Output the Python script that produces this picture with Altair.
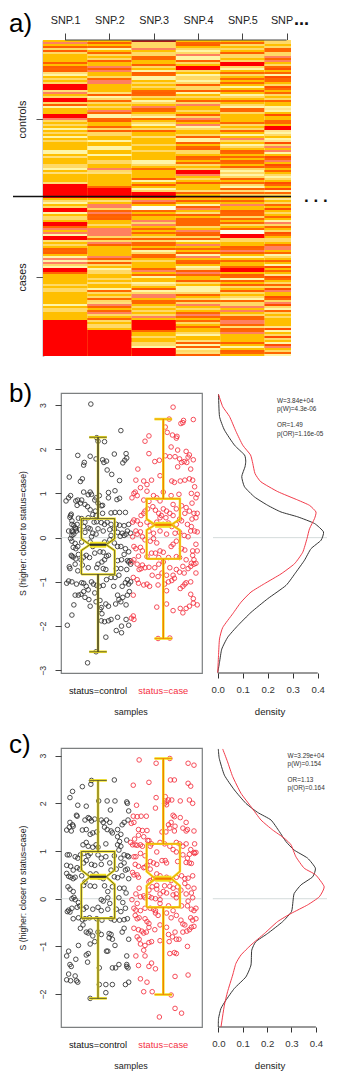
import altair as alt
import pandas as pd

FONT = "Liberation Sans"

# ---------- panel a: genotype heat map (one letter per sample row, top to bottom)
heat_codes = {
    1: "ASARYRYAA AARARORWPA YAYRRRWSAY RRYRPAAARR "
       "SYAYAPAYAP AYAAAAPPAW AAAYYPAWAA AAWRRRRRRR "
       "AYPAYRRPAY YARROSASPR RWAYARORAP SPSYPRROAA "
       "AAAYAYYAAA AAAPAYYAAA ARRRRRRRRR RRRRRRRRR",
    2: "ARAOPAOYA YRAASRSAAY OSSAAAAWRP YOYAYASOPP "
       "ORAAOYRYYA APAAPPAAPA AYYAASYWAA AAAAORRRRR "
       "AWASSYOSRO RAAYASSSSY RYSRAAAAAS RWRYAPYYAA "
       "YAWAAPOYAY OYWSOAOSYA OYAYYARRRR RRRRRRRRR",
    3: "DYYYSAYYO OAARYAPROP PAYAYAOROY APYASROAYP "
       "OAYPAYRAAW AAAYAAYAAA APPYAOAAAA RPARAPYRRR "
       "ASRAWWOAOA ASYSAOAOAY RYOOARPYOO AYAAAOSAOP "
       "AAPWARPYSS AOOAYAYAYS ARRRRROAAY AAYYPRRRR",
    4: "AORAYPYSP PRYARRYAPY YPYRYYRPAY ARYSAAYARY "
       "SOASPYAAYR PPRAORYYAR OAOYAYRRSA YARAAAWRAO "
       "ARAPRSAWRA OOOOYASORY RPASAOARPS AORAPWRSOA "
       "ARYAPPPYOA YOYSAYAOSO AOYAOAAYPA AWRPRPYWR",
    5: "AOYAYARYY AYRRYPAOYA OAOAPARAPY AOAYPOOYAA "
       "AAOYAYOAPA SYAPYAROAO AROARYPYPY RAOYPRWOYR "
       "AOASAAROOY OAOYAOWWRR YYAAROSRAP AOAAORRARO "
       "PRARYARYAY POYYSASAYO OSSOWROSAA AARAPAROA",
    6: "YYAYOOYYS OSAYORAOPR OOAYROAOYA YOAAPWPARA "
       "AOOARRWPYA PWRYSASPAR OSAROAOAYP YAROARPOYA "
       "WAYOARAYAO APSYOAYROA YYAOSSAOPY AOAPRAOAWR "
       "OAYOYRSAAR OYSRYPOYAY AAAAWRPAYR YAPRSAYOP",
}
code_names = ["R", "O", "S", "A", "Y", "P", "W", "D"]
code_colors = ["#FF0000", "#FF6600", "#FF8060", "#FFBF00", "#FFD966", "#FFF5A8", "#FFFFF0", "#A81818"]
snp_ticks = [1, 2, 3, 4, 5, 6]

# ---------- panels b / c: jittered scores (group position, S)
ctrl_b = [(.89,3.02),(1.35,2.42),(.98,2.26),(1.1,2.17),(1.0,2.18),(.69,1.86),(.88,1.84),(.97,1.78),(1.07,1.76),(1.25,1.89),(1.43,1.90),(1.41,1.75),(1.44,1.8),(1.38,1.69),(.79,1.70),(.78,1.64),(1.09,1.70),(1.13,1.73),(1.14,1.53),(1.21,1.43),(.73,1.27),(.76,1.33),(.56,1.37),(1.33,1.29),(1.26,1.06),(.78,1.03),(.88,1.03),(.90,.98),(.85,.97),(.97,.9),(1.02,.95),(1.16,1.02),(1.16,.9),(1.33,.89),(1.29,.86),(.58,.95),(.51,.83),(.55,.9),(.66,.83),(.69,.85),(.75,.85),(.68,.73),(.73,.78),(.8,.75),(.84,.7),(.95,.85),(1.0,.78),(1.07,.73),(1.05,.72),(.88,.63),(.96,.6),(1.07,.55),(1.2,.56),(1.26,.57),(1.33,.57),(1.42,.57),(.59,.53),(.58,.5),(.57,.46),(.6,.38),(.6,.3),(.7,.44),(.75,.43),(.8,.35),(.85,.45),(.92,.52),(.97,.5),(.94,.35),(.98,.36),(1.05,.34),(1.1,.3),(1.14,.35),(1.2,.3),(1.28,.3),(1.33,.28),(1.4,.27),(1.47,.3),(1.45,.15),(1.43,.08),(1.4,.05),(1.37,.1),(1.5,.1),(.55,.15),(.6,.15),(.63,.27),(.65,.22),(.62,.13),(.67,.15),(.66,.2),(.63,.08),(.68,.3),(.6,.05),(.72,.18),(.78,.25),(.85,.22),(.8,.12),(.88,.2),(.92,.1),(.97,.08),(.9,.02),(1.0,.2),(1.08,.15),(1.18,.18),(1.25,.2),(1.3,.12),(1.34,.03),(1.2,.05),(.6,-.08),(.58,-.02),(.65,-.13),(.62,-.22),(.66,-.25),(.69,-.2),(.75,-.1),(.88,-.1),(.92,-.2),(1.1,-.1),(1.18,-.05),(1.25,-.12),(1.3,-.2),(1.35,-.2),(1.42,-.25),(1.47,-.32),(.59,-.4),(.6,-.42),(.62,-.44),(.66,-.48),(.7,-.38),(.74,-.5),(.78,-.44),(.82,-.4),(.87,-.45),(.95,-.35),(1.03,-.32),(1.08,-.33),(1.13,-.42),(1.1,-.5),(1.16,-.4),(1.06,-.55),(1.0,-.6),(1.3,-.52),(1.36,-.5),(1.4,-.38),(1.45,-.52),(1.47,-.55),(1.49,-.52),(1.5,-.6),(.56,-.66),(.57,-.7),(.65,-.6),(.69,-.75),(.76,-.62),(.85,-.68),(.98,-.68),(1.08,-.7),(1.12,-.72),(1.28,-.7),(1.35,-.7),(1.44,-.72),(.55,-.98),(.6,-1.0),(.52,-1.03),(.67,-1.05),(.75,-1.02),(.78,-1.03),(.82,-1.1),(.9,-1.0),(.93,-1.05),(.98,-1.08),(1.08,-1.08),(1.13,-.95),(1.2,-.9),(1.26,-.9),(1.32,-.85),(1.37,-1.1),(1.42,-1.02),(1.47,-1.05),(1.5,-1.0),(1.45,-.95),(.65,-1.3),(.7,-1.3),(.74,-1.28),(.78,-1.22),(.8,-1.35),(.85,-1.18),(.86,-1.4),(.95,-1.25),(1.02,-1.1),(1.24,-1.1),(1.3,-1.3),(1.32,-1.4),(1.38,-1.35),(1.45,-1.3),(1.48,-1.22),(.63,-1.52),(.6,-1.75),(.88,-1.55),(.97,-1.45),(1.03,-1.42),(1.05,-1.58),(1.12,-1.5),(1.16,-1.55),(1.27,-1.5),(1.35,-1.45),(1.43,-1.52),(.53,-1.98),(1.03,-1.62),(1.06,-1.72),(1.05,-1.88),(1.1,-1.9),(1.16,-1.88),(1.2,-1.85),(1.3,-1.8),(1.43,-1.85),(1.47,-1.98),(1.36,-2.0),(1.28,-2.1),(1.36,-2.15),(1.12,-2.25),(.84,-2.83),(.97,-2.58)]
case_b = [(2.15,2.95),(2.46,2.67),(2.31,2.65),(2.27,2.58),(2.3,2.6),(2.09,2.68),(2.03,2.5),(2.06,2.38),(2.14,2.32),(2.2,2.25),(2.21,2.29),(1.72,2.18),(1.78,2.3),(2.12,2.05),(2.22,1.98),(2.35,1.95),(2.38,1.82),(2.4,1.87),(2.46,1.76),(2.18,1.83),(2.25,1.78),(2.1,1.83),(2.03,1.85),(1.78,1.9),(1.87,1.72),(1.94,1.75),(2.22,1.6),(2.28,1.7),(2.32,1.72),(2.36,1.7),(2.42,1.55),(1.61,1.55),(1.58,1.3),(1.7,1.28),(1.75,1.2),(1.82,1.3),(1.95,1.4),(2.13,1.28),(2.17,1.25),(2.26,1.28),(2.33,1.3),(2.4,1.33),(2.45,1.3),(2.48,1.15),(1.65,1.13),(1.75,1.05),(1.57,1.03),(1.55,1.0),(1.52,.9),(1.6,.95),(1.7,.85),(1.78,.82),(1.85,.95),(1.9,.9),(1.95,.83),(2.0,1.03),(2.12,.95),(2.24,.98),(2.43,1.0),(2.52,.98),(2.5,.9),(2.44,.78),(1.84,.7),(1.76,.65),(1.72,.6),(1.7,.55),(1.66,.5),(1.88,.62),(1.93,.55),(2.0,.65),(2.05,.6),(2.15,.75),(2.2,.65),(2.28,.72),(2.35,.68),(2.4,.6),(2.47,.55),(2.52,.55),(1.95,.45),(1.97,.5),(2.04,.45),(2.1,.55),(2.15,.5),(2.25,.42),(2.33,.55),(2.44,.42),(2.5,.45),(1.55,.4),(1.53,.35),(1.6,.38),(1.65,.3),(1.75,.35),(1.8,.27),(1.9,.35),(2.0,.3),(2.08,.33),(2.13,.25),(2.2,.3),(2.28,.38),(2.37,.3),(2.43,.25),(2.48,.15),(2.52,.13),(1.58,.15),(1.6,.08),(1.65,.13),(1.53,.02),(1.68,.02),(1.78,.15),(1.85,.1),(1.95,.15),(2.05,.08),(2.18,.1),(2.25,.12),(2.32,.05),(2.42,.15),(2.38,0.02),(2.5,-.15),(1.55,-.2),(1.58,-.25),(1.65,-.22),(1.68,-.3),(1.72,-.05),(1.8,-.08),(1.85,-.02),(1.9,-.12),(1.95,-.3),(2.0,-.33),(2.12,-.2),(2.15,-.15),(2.2,-.08),(2.28,-.25),(2.33,-.28),(2.45,-.3),(2.52,-.3),(2.45,-.4),(1.62,-.42),(1.75,-.43),(1.82,-.35),(1.88,-.35),(1.93,-.45),(2.08,-.45),(2.2,-.43),(2.25,-.45),(2.35,-.5),(2.47,-.5),(2.5,-.58),(2.42,-.65),(1.55,-.5),(1.52,-.55),(1.6,-.6),(1.68,-.62),(1.72,-.68),(1.78,-.67),(1.87,-.68),(1.93,-.6),(2.0,-.55),(2.1,-.68),(2.2,-.72),(2.3,-.65),(2.38,-.7),(2.43,-.58),(2.47,-.6),(1.63,-.72),(1.66,-.7),(1.83,-.85),(1.92,-.88),(1.98,-.8),(2.05,-.85),(2.15,-.85),(2.25,-.78),(2.32,-.8),(2.5,-.8),(1.54,-.9),(1.6,-.95),(1.62,-1.03),(1.7,-1.07),(1.75,-1.05),(1.79,-1.1),(1.92,-1.07),(2.02,-1.05),(2.08,-1.0),(2.13,-.97),(2.17,-.92),(2.26,-1.15),(2.3,-1.1),(2.33,-1.05),(2.35,-1.02),(2.42,-1.0),(1.54,-1.3),(2.05,-1.2),(2.42,-1.28),(2.46,-1.38),(1.9,-1.57),(2.05,-1.5),(2.15,-1.65),(2.26,-1.6),(2.3,-1.7),(2.35,-1.6),(2.4,-1.55),(2.46,-1.48),(2.52,-1.52),(1.54,-1.77),(1.55,-1.85),(1.51,-1.82),(1.92,-2.28),(2.1,-2.27)]
ctrl_c = [(.89,2.4),(.9,2.48),(1.25,2.49),(.76,2.35),(.61,2.25),(.57,2.12),(.69,1.96),(.82,1.94),(1.01,2.05),(1.14,2.05),(1.26,2.05),(1.44,2.03),(1.45,2.0),(1.19,1.86),(1.47,1.84),(.67,1.75),(.68,1.73),(.61,1.55),(.57,1.6),(.56,1.5),(.59,1.42),(.52,1.44),(.62,1.52),(.76,1.44),(.8,1.65),(.85,1.7),(.87,1.68),(.9,1.63),(.95,1.67),(.82,1.45),(.88,1.35),(.92,1.38),(.98,1.4),(1.05,1.65),(1.08,1.6),(1.13,1.65),(1.18,1.6),(1.1,1.5),(1.14,1.45),(1.2,1.42),(1.22,1.38),(1.3,1.45),(1.35,1.35),(1.3,1.3),(1.37,1.55),(1.4,1.6),(1.46,1.65),(1.44,1.23),(1.33,1.2),(.77,1.13),(.82,1.18),(.85,1.1),(.92,1.08),(.97,1.13),(1.0,1.08),(1.12,1.15),(1.3,1.13),(1.35,1.1),(1.32,1.02),(1.45,.9),(1.47,.88),(.53,.92),(.56,.92),(.65,.88),(.69,.85),(.73,.92),(.78,.95),(.85,.9),(.88,.95),(1.0,.92),(1.05,.85),(1.12,.88),(1.18,.75),(1.25,.9),(1.35,.85),(1.4,.92),(.52,.7),(.58,.68),(.62,.6),(.68,.65),(.72,.62),(.78,.75),(.82,.8),(.9,.72),(.95,.7),(1.05,.72),(1.2,.6),(1.28,.62),(1.35,.7),(1.4,.75),(1.45,.62),(.52,.53),(.55,.47),(.58,.45),(.62,.42),(.65,.45),(.75,.48),(.8,.35),(.88,.52),(.97,.52),(1.02,.45),(1.08,.42),(1.25,.46),(1.3,.44),(1.37,.48),(1.42,.6),(1.47,.42),(.54,.25),(.57,.2),(.62,.15),(.78,.28),(.88,.27),(.95,.26),(1.1,.27),(1.15,.15),(1.22,.25),(1.33,.22),(1.4,.22),(1.43,.12),(.6,.0),(.65,-.02),(.63,.03),(.7,-.08),(.72,-.15),(.55,-.24),(.57,-.28),(.53,-.27),(.6,-.2),(.68,-.18),(.78,-.22),(.82,-.18),(.92,-.22),(1.0,-.18),(1.05,-.25),(1.08,-.05),(1.15,.02),(1.18,-.1),(1.15,-.22),(1.05,-.02),(1.32,.02),(1.38,-.08),(1.42,-.2),(1.28,-.22),(1.35,-.27),(.62,-.42),(.7,-.4),(.76,-.44),(.8,-.42),(.87,-.4),(.98,-.42),(1.06,-.45),(1.2,-.42),(1.25,-.45),(1.33,-.45),(1.4,-.44),(1.45,-.42),(.73,-.62),(.77,-.55),(.82,-.7),(.85,-.72),(.88,-.68),(.92,-.78),(.95,-.9),(1.0,-.7),(1.05,-.75),(1.17,-.73),(1.2,-.75),(1.22,-.85),(1.37,-.7),(1.4,-.62),(1.47,-.85),(.7,-.98),(.88,-.95),(1.17,-.82),(1.26,-.98),(.52,-1.2),(.55,-1.1),(.57,-1.38),(.59,-1.42),(.66,-1.27),(.82,-1.18),(.85,-1.15),(.84,-1.33),(1.13,-1.1),(1.15,-1.1),(1.22,-1.45),(1.27,-1.45),(1.32,-1.38),(1.44,-1.2),(1.44,-1.38),(1.46,-1.45),(1.44,-1.42),(.52,-1.7),(.55,-1.58),(.58,-1.72),(.65,-1.62),(.67,-1.72),(.69,-1.75),(1.02,-1.45),(1.02,-1.8),(1.12,-1.8),(1.22,-1.8),(1.42,-1.8),(1.47,-1.75),(1.12,-1.97),(.88,-2.09)]
case_c = [(1.63,2.91),(1.89,2.84),(2.1,2.94),(2.38,2.84),(2.47,2.8),(1.54,2.38),(1.78,2.44),(2.11,2.49),(2.17,2.49),(2.38,2.42),(2.42,2.36),(1.89,2.12),(2.03,2.14),(2.08,2.07),(2.13,2.07),(2.26,2.05),(2.4,2.07),(2.45,2.0),(1.59,1.96),(1.88,1.9),(2.05,1.97),(2.02,2.0),(2.05,2.03),(2.15,1.75),(2.17,1.72),(2.26,1.7),(2.35,1.6),(1.54,1.73),(1.6,1.72),(1.66,1.73),(1.74,1.73),(2.12,1.6),(2.08,1.55),(2.1,1.48),(2.04,1.4),(1.98,1.4),(2.18,1.52),(2.17,1.42),(2.3,1.48),(2.37,1.45),(2.35,1.42),(2.47,1.42),(1.55,1.6),(1.51,1.58),(1.62,1.45),(1.68,1.43),(1.75,1.43),(1.62,1.33),(1.56,1.25),(1.7,1.3),(1.76,1.22),(1.78,1.22),(1.82,1.15),(1.5,1.18),(1.53,1.13),(1.57,1.13),(1.6,1.12),(1.65,1.13),(1.68,1.1),(1.8,1.1),(1.95,1.18),(2.02,1.15),(2.1,1.1),(2.2,1.18),(2.25,1.15),(2.3,1.1),(2.35,1.15),(2.48,1.15),(2.42,1.03),(2.47,.97),(2.5,.97),(2.4,.93),(1.55,.88),(1.58,.88),(1.65,.95),(1.72,.9),(1.9,.98),(1.98,.8),(2.03,.8),(2.15,1.03),(2.2,.98),(2.3,.92),(2.37,.85),(2.48,.95),(1.8,.78),(1.85,.75),(1.9,.72),(1.75,.7),(1.7,.65),(1.72,.66),(1.62,.68),(1.57,.72),(2.05,.75),(2.22,.78),(2.35,.76),(2.4,.75),(2.43,.74),(1.53,.55),(1.55,.5),(1.6,.5),(1.62,.45),(1.8,.62),(1.9,.52),(1.85,.42),(1.95,.48),(2.05,.45),(2.12,.38),(2.2,.45),(2.28,.48),(2.33,.42),(2.38,.43),(2.45,.48),(1.8,.38),(1.78,.35),(1.9,.28),(2.02,.27),(2.1,.26),(2.15,.22),(2.22,.25),(2.33,.32),(2.38,.25),(2.47,.22),(1.63,.22),(1.78,.18),(1.83,.25),(1.9,.2),(1.95,.1),(2.0,.15),(2.05,.12),(2.2,.1),(2.27,.18),(2.35,.1),(2.43,.12),(1.58,.1),(1.65,.04),(1.7,.06),(1.72,.02),(1.78,.05),(1.82,.02),(1.88,.0),(1.95,-.02),(2.15,.08),(2.2,.02),(2.38,-.05),(2.45,.02),(1.52,-.02),(1.6,-.1),(1.55,-.2),(1.58,-.24),(1.65,-.25),(1.72,-.2),(1.8,-.2),(1.85,-.22),(1.88,-.25),(1.95,-.1),(2.08,-.15),(2.15,-.25),(2.28,-.15),(2.37,-.15),(2.43,-.22),(2.5,-.2),(2.47,-.25),(1.57,-.35),(1.63,-.4),(1.6,-.42),(1.72,-.42),(1.75,-.48),(1.78,-.52),(1.88,-.3),(1.92,-.35),(2.05,-.3),(2.12,-.4),(2.2,-.35),(2.27,-.45),(2.3,-.53),(2.33,-.55),(2.42,-.4),(2.45,-.45),(2.5,-.42),(2.47,-.58),(1.55,-.62),(1.62,-.65),(1.67,-.68),(1.7,-.72),(1.74,-.7),(1.78,-.6),(1.87,-.65),(1.95,-.55),(2.05,-.6),(2.08,-.75),(2.18,-.7),(2.3,-.7),(2.36,-.68),(2.4,-.65),(2.43,-.6),(1.6,-.8),(1.63,-.85),(1.65,-.95),(1.72,-.98),(1.78,-.92),(1.82,-.9),(1.95,-.88),(2.14,-.8),(2.2,-.85),(2.24,-.85),(2.09,-.9),(2.37,-1.0),(1.58,-1.2),(1.62,-1.4),(1.7,-1.08),(1.72,-1.2),(1.78,-1.42),(1.82,-1.35),(1.88,-1.47),(2.1,-1.15),(2.17,-1.13),(2.2,-1.15),(2.38,-1.6),(2.18,-1.63),(1.65,-1.68),(1.75,-1.75),(1.7,-1.95),(1.83,-1.95),(2.12,-2.02),(2.18,-2.3),(2.28,-2.4),(1.94,-2.48)]

# box statistics: centre, q1, q3, median, notch low, notch high, whisker low, whisker high
box_b = [(1, -.83, .43, -.16, -.29, -.02, -2.58, 2.27), (2, -.48, .88, .29, .17, .42, -2.28, 2.68)]
box_c = [(1, -.41, .99, .46, .30, .60, -2.09, 2.48), (2, -.18, 1.15, .42, .27, .57, -2.01, 2.94)]

# density curves: S, density
dens_b_s0 = [3.24,2.74,2.43,2.09,1.87,1.73,1.60,1.38,1.15,.92,.73,.58,.47,.32,.13,-.06,-.25,-.51,-.78,-1.08,-1.38,-1.69,-1.99,-2.25,-2.52,-2.82,-3.05]
dens_b_d0 = [.003,.007,.027,.067,.107,.112,.109,.096,.107,.147,.20,.253,.32,.387,.423,.413,.373,.347,.313,.273,.20,.133,.08,.04,.016,.007,0]
dens_b_s1 = [3.24,2.96,2.74,2.40,2.09,1.87,1.68,1.45,1.26,1.04,.85,.73,.58,.43,.20,-.02,-.33,-.59,-.82,-1.04,-1.23,-1.46,-1.72,-2.03,-2.29,-2.67,-3.05]
dens_b_d1 = [.003,.02,.047,.073,.10,.131,.14,.149,.173,.24,.32,.367,.393,.387,.367,.357,.34,.307,.253,.187,.133,.093,.06,.02,.007,.003,0]
dens_c_s0 = [3.14,2.94,2.59,2.28,2.0,1.81,1.65,1.41,1.2,1.02,.85,.64,.46,.29,.11,-.06,-.27,-.48,-.73,-.9,-1.08,-1.39,-1.64,-1.88,-2.13,-2.3,-2.51,-2.69]
dens_c_d0 = [0,.004,.025,.066,.113,.161,.216,.25,.277,.311,.366,.398,.387,.339,.311,.306,.3,.264,.202,.154,.137,.134,.113,.066,.031,.011,.001,0]
dens_c_s1 = [3.14,2.87,2.56,2.21,1.93,1.65,1.44,1.27,1.13,.88,.64,.5,.25,.04,-.13,-.31,-.48,-.73,-.97,-1.18,-1.36,-1.6,-1.95,-2.23,-2.69]
dens_c_d1 = [.018,.038,.059,.093,.134,.175,.223,.27,.298,.318,.352,.399,.434,.414,.366,.298,.243,.189,.134,.093,.072,.059,.038,.025,.011]

notes_b = ["W=3.84e+04", "p(W)=4.3e-06", "OR=1.49", "p(OR)=1.16e-05"]
notes_b_s = [3.08, 2.90, 2.54, 2.35]
notes_c = ["W=3.29e+04", "p(W)=0.154", "OR=1.13", "p(OR)=0.164"]
notes_c_s = [3.0, 2.82, 2.49, 2.32]

RED = "#F4303F"
BLK = "#303030"
YEL = "#F3E21E"
ORG = "#F07800"
GREY = "#7C7F80"


def txt(t, x, y, size, color="#222", align="center", weight="normal", baseline="middle"):
    kw = dict(font=FONT, fontSize=size, color=color, align=align, fontWeight=weight, baseline=baseline)
    return alt.Chart(pd.DataFrame({"t": [t]})).mark_text(**kw).encode(text="t:N", x=alt.value(x), y=alt.value(y))


# ---------- panel a
rows = []
for col, s in heat_codes.items():
    codes = s.replace(" ", "")
    # a one-sample red or pale stripe is thin: it sits on the amber ground of its column
    rows.append({"c0": col - .5, "c1": min(col + .5, 6.1), "r0": 0, "r1": len(codes), "g": "A"})
    for i, ch in enumerate(codes):
        if ch == "A":
            continue
        alone = ch in "RW" and (i == 0 or codes[i - 1] != ch) and (i == len(codes) - 1 or codes[i + 1] != ch)
        m = .2 if alone else 0
        rows.append({"c0": col - .5, "c1": min(col + .5, 6.1), "r0": i + m, "r1": i + 1 - m, "g": ch})
heat_df = pd.DataFrame(rows)
HX = alt.Scale(domain=[.5, 6.1], nice=False, zero=False)
HY = alt.Scale(domain=[0, 158], nice=False, zero=False, reverse=True)
HAX = alt.Axis(
    orient="top", values=snp_ticks, grid=False, domain=False, tickSize=7, tickColor="#444", tickWidth=1,
    labelExpr="datum.value<6 ? 'SNP.'+datum.value : ''", labelFont=FONT, labelFontSize=10.8,
    labelColor="#222", labelPadding=8, labelFlush=False, labelOverlap=False)
HAY = alt.Axis(
    orient="left", values=[39.5, 118.5], grid=False, domain=True, domainColor=GREY, domainWidth=1.6,
    tickSize=7, tickColor="#555", labelExpr="datum.value<80 ? 'controls' : 'cases'", labelFont=FONT,
    labelFontSize=10.8, labelColor="#222", labelAngle=270, labelAlign="center", labelBaseline="bottom",
    labelPadding=9, labelFlush=False, labelOverlap=False)


def hx(f):
    return alt.X(f, scale=HX, title=None, axis=HAX)


def hy(f):
    return alt.Y(f, scale=HY, title=None, axis=HAY)


heat = alt.Chart(heat_df).mark_rect(strokeWidth=0).encode(
    x=hx("c0:Q"), x2="c1:Q", y=hy("r0:Q"), y2="r1:Q",
    color=alt.Color("g:N", scale=alt.Scale(domain=code_names, range=code_colors), legend=None),
    order=alt.Order("r1:Q", sort="descending"),
)
heat_axis = alt.Chart(pd.DataFrame({"a": [1], "b": [6], "r": [0]})).mark_rule(color="#444", strokeWidth=1).encode(
    x=hx("a:Q"), x2="b:Q", y=hy("r:Q"))
heat_line = alt.Chart(pd.DataFrame({"r": [78.25]})).mark_rule(color="#111", strokeWidth=1.6).encode(
    y=hy("r:Q"), x=alt.value(-30), x2=alt.value(248))
top_anchor = alt.Chart(pd.DataFrame({"v": [0]})).mark_rule(opacity=0).encode(
    x=alt.value(0), x2=alt.value(1), y=alt.value(-32))
panel_a = alt.layer(
    heat, heat_axis, heat_line, top_anchor,
    txt("a)", -34, -8, 26, color="#000", align="left", baseline="alphabetic"),
    txt("SNP", 239, -19.5, 10.8),
    txt("...", 251, -20.5, 18, color="#111", align="left", weight="bold"),
    txt(". . .", 261, 156.5, 17, color="#111", align="left", weight="bold"),
).properties(width=248, height=316)


# ---------- panels b/c
def box_panel(ctrl, case, boxes, ydom, yticks, h, letter, letter_y, ctrl_whisker):
    XS = alt.Scale(domain=[.433, 2.593], nice=False, zero=False)
    YS = alt.Scale(domain=ydom, nice=False, zero=False)
    YA = alt.Axis(
        values=yticks, grid=False, domain=False, tickSize=6, tickColor="#444", labelAngle=270,
        labelAlign="center", labelBaseline="bottom", labelFont=FONT, labelFontSize=8.8, labelColor="#333",
        labelPadding=8, titleFont=FONT, titleFontSize=8.7, titleFontWeight="normal", titleColor="#222",
        titlePadding=11, labelFlush=False, labelOverlap=False)
    TITLE = "S (higher: closer to status=case)"

    def X(f="x:Q"):
        return alt.X(f, scale=XS, axis=None)

    def Y(f="s:Q"):
        return alt.Y(f, scale=YS, title=TITLE, axis=YA)

    zero = alt.Chart(pd.DataFrame({"a": [.433], "b": [2.593], "s": [0]})).mark_rule(color="#C9D2D2", strokeWidth=.8).encode(
        x=X("a:Q"), x2="b:Q", y=Y())
    layers = [zero]
    for pts, col in ((ctrl, BLK), (case, RED)):
        layers.append(alt.Chart(pd.DataFrame(pts, columns=["x", "s"])).mark_point(
            shape="circle", filled=False, size=21, strokeWidth=.95, color=col, opacity=.9).encode(x=X(), y=Y()))
    for (c, q1, q3, med, nl, nu, wl, wh), core, cw in zip(boxes, (BLK, ORG), (ctrl_whisker, 1.2)):
        w, n, cap = .255, .125, .135
        outline = pd.DataFrame({
            "x": [c-w, c+w, c+w, c+n, c+w, c+w, c-w, c-w, c-n, c-w, c-w],
            "s": [q1, q1, nl, med, nu, q3, q3, nu, med, nl, q1],
            "o": list(range(11))})
        seg = pd.DataFrame({"a": [c, c], "b": [c, c], "s": [q3, q1], "s2": [wh, wl]})
        caps = pd.DataFrame({"a": [c-cap, c-cap], "b": [c+cap, c+cap], "s": [wh, wl], "s2": [wh, wl]})
        bar = pd.DataFrame({"a": [c-n], "b": [c+n], "s": [med]})
        for color, lw, box_w, cap_w, mw in ((YEL, 2.6, 2.4, 2.6, 6), (core, cw, .7, .7, 2.2)):
            layers.append(alt.Chart(seg).mark_rule(color=color, strokeWidth=lw).encode(
                x=X("a:Q"), x2="b:Q", y=Y(), y2="s2:Q"))
            layers.append(alt.Chart(caps).mark_rule(color=color, strokeWidth=cap_w).encode(
                x=X("a:Q"), x2="b:Q", y=Y()))
            layers.append(alt.Chart(outline).mark_line(color=color, strokeWidth=box_w).encode(
                x=X(), y=Y(), order="o:Q"))
            layers.append(alt.Chart(bar).mark_rule(color=color, strokeWidth=mw).encode(
                x=X("a:Q"), x2="b:Q", y=Y()))
    labels = pd.DataFrame({"x": [1, 2], "s": [0, 0], "t": ["status=control", "status=case"]})
    layers.append(alt.Chart(labels.iloc[[0]]).mark_text(font=FONT, fontSize=9.3, color="#111", baseline="middle").encode(
        x=X(), y=alt.value(h + 18), text="t:N"))
    layers.append(alt.Chart(labels.iloc[[1]]).mark_text(font=FONT, fontSize=9.3, color=RED, baseline="middle").encode(
        x=X(), y=alt.value(h + 18), text="t:N"))
    layers.append(txt("samples", 70, h + 39, 9, align="center"))
    layers.append(txt(letter, -52, letter_y, 26, color="#000", align="left", baseline="alphabetic"))
    return alt.layer(*layers).properties(
        width=141, height=h, view=alt.ViewBackground(stroke=GREY, strokeWidth=1.2, fill="white"))


def dens_panel(s0, d0, s1, d1, notes, notes_s, note_x, xdom, ydom, h):
    XS = alt.Scale(domain=xdom, nice=False, zero=False)
    YS = alt.Scale(domain=ydom, nice=False, zero=False)
    XA = alt.Axis(
        values=[0, .1, .2, .3, .4], format=".1f", grid=False, domain=False, tickSize=5, tickColor="#333",
        labelFont=FONT, labelFontSize=9.6, labelColor="#333", labelPadding=6, labelFlush=False, labelOverlap=False)

    def X(f="d:Q"):
        return alt.X(f, scale=XS, title=None, axis=XA)

    Y = alt.Y("s:Q", scale=YS, axis=None)
    zero = alt.Chart(pd.DataFrame({"a": [xdom[0] + .028], "b": [xdom[1]], "s": [0]})).mark_rule(
        color="#C9D2D2", strokeWidth=.8).encode(x=X("a:Q"), x2="b:Q", y=Y)
    axis_line = alt.Chart(pd.DataFrame({"a": [0], "b": [.4], "s": [ydom[0]]})).mark_rule(color="#333", strokeWidth=1).encode(
        x=X("a:Q"), x2="b:Q", y=Y)
    layers = [zero, axis_line]
    for ss, dd, col in ((s0, d0, "#2A2A2A"), (s1, d1, "#F03040")):
        df = pd.DataFrame({"s": ss, "d": dd, "o": range(len(ss))})
        layers.append(alt.Chart(df).mark_line(color=col, strokeWidth=.95, interpolate="cardinal", tension=.5).encode(
            x=X(), y=Y, order="o:Q"))
    nd = pd.DataFrame({"t": notes, "s": notes_s, "d": [note_x] * 4})
    layers.append(alt.Chart(nd).mark_text(font=FONT, fontSize=6.4, color="#333", align="left", baseline="middle").encode(
        x=X(), y=Y, text="t:N"))
    layers.append(txt("density", 64, h + 39, 9.6, align="center"))
    return alt.layer(*layers).properties(width=121, height=h)


def spacer(h):
    return alt.Chart(pd.DataFrame({"v": [0]})).mark_point(opacity=0).encode(
        x=alt.value(0), y=alt.value(0)).properties(width=14, height=h)


yb = [-3.06, 3.27]
yc = [-2.69, 3.16]
row_b = alt.hconcat(
    spacer(280),
    box_panel(ctrl_b, case_b, box_b, yb, [-3, -2, -1, 0, 1, 2, 3], 280, "b)", 9, 1.4),
    dens_panel(dens_b_s0, dens_b_d0, dens_b_s1, dens_b_d1, notes_b, notes_b_s, .237, [-.047, .437], yb, 280),
    spacing=4, bounds="flush")
row_c = alt.hconcat(
    spacer(279),
    box_panel(ctrl_c, case_c, box_c, yc, [-2, -1, 0, 1, 2, 3], 279, "c)", 5, .8),
    dens_panel(dens_c_s0, dens_c_d0, dens_c_s1, dens_c_d1, notes_c, notes_c_s, .284, [-.0504, .4455], yc, 279),
    spacing=4, bounds="flush")

chart = alt.vconcat(panel_a, row_b, spacer(281), row_c, spacing=37, bounds="flush").properties(
    padding=0, background="white"
).configure_view(stroke=None)

chart.save("out.html", embed_options={"renderer": "svg", "actions": False})
